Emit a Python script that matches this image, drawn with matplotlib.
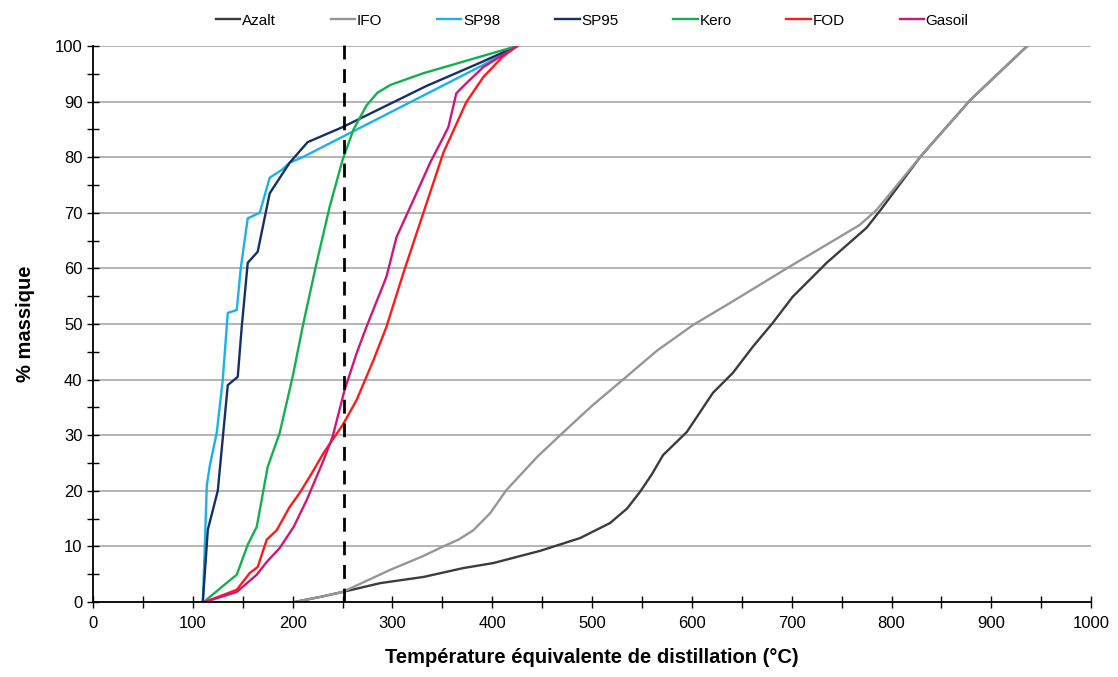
import matplotlib.pyplot as plt
from matplotlib.ticker import MultipleLocator

plt.rcParams['font.family'] = ['Liberation Sans Narrow', 'Liberation Sans', 'DejaVu Sans']

# distillation curves: temperature (°C) and cumulative % mass
azalt_t = [202, 230, 250, 288, 331, 371, 401, 448, 488, 518, 535, 548, 560, 571, 595, 621, 641,
           661, 681, 701, 735, 775, 789, 829, 879, 936]
azalt_y = [0, 1.0, 1.8, 3.4, 4.5, 6.1, 7.0, 9.2, 11.5, 14.2, 16.8, 19.8, 23.0, 26.4, 30.6, 37.6,
           41.2, 45.9, 50.2, 54.9, 61, 67.3, 70.5, 80.1, 90.3, 100]

ifo_t = [202, 230, 250, 298, 330, 351, 366, 381, 398, 414, 445, 468, 500, 531, 565, 601, 643, 695,
         740, 768, 785, 829, 879, 936]
ifo_y = [0, 1.0, 1.8, 5.8, 8.2, 10, 11.2, 12.9, 16, 20.1, 26.1, 30, 35.3, 40, 45.2, 49.8, 54.3, 60,
         64.8, 67.8, 70.5, 80.1, 90.3, 100]

sp98_t = [110, 112, 114, 117, 124, 130, 135, 144, 148, 155, 167, 177, 189, 197, 210, 390, 425]
sp98_y = [0, 10, 21, 24.5, 30.5, 40, 52, 52.5, 60, 69, 70, 76.3, 77.7, 79, 80, 96.5, 100]

sp95_t = [110, 115, 125, 135, 145, 149, 155, 165, 177, 197, 215, 250, 334, 388, 425]
sp95_y = [0, 13, 20, 39, 40.5, 49.5, 61, 63, 73.5, 79, 82.7, 85.4, 92.8, 97, 100]

kero_t = [111, 135, 144, 155, 164, 175, 187, 200, 210, 224, 237, 250, 261, 274, 285, 298, 331, 425]
kero_y = [0, 3.6, 4.9, 10.3, 13.5, 24.3, 30.4, 40.5, 49.5, 61, 71, 79.5, 85, 89.3, 91.6, 93, 95.1,
          100]

fod_t = [112, 144, 157, 165, 174, 184, 197, 207, 218, 231, 250, 264, 281, 294, 311, 331, 351,
         374, 391, 410, 425]
fod_y = [0, 2.2, 5.2, 6.3, 11.2, 12.9, 17.1, 19.6, 22.8, 26.8, 31.8, 36.3, 43.5, 49.5, 59.2, 70,
         80.8, 89.9, 94.4, 98, 100]

gasoil_t = [112, 144, 164, 174, 187, 201, 214, 231, 240, 252, 264, 274, 294, 304, 321, 338, 351,
            356, 364, 374, 391, 425]
gasoil_y = [0, 1.8, 4.9, 7.2, 9.7, 13.5, 18.3, 25.5, 29.7, 38.1, 44.7, 49.5, 58.5, 65.6, 72.3,
            79.1, 83.6, 85.4, 91.5, 93.3, 96.2, 100]

series = [
    ('Azalt', azalt_t, azalt_y, '#3c3c3c'),
    ('IFO', ifo_t, ifo_y, '#969696'),
    ('SP98', sp98_t, sp98_y, '#1ab2ea'),
    ('SP95', sp95_t, sp95_y, '#14306a'),
    ('Kero', kero_t, kero_y, '#13b050'),
    ('FOD', fod_t, fod_y, '#ff1a1a'),
    ('Gasoil', gasoil_t, gasoil_y, '#d0167a'),
]

fig = plt.figure(figsize=(11.18, 6.77), dpi=100)
ax = fig.add_axes([0.0832, 0.1108, 0.8928, 0.8213])

for name, t, y, c in series:
    ax.plot(t, y, color=c, lw=1.7, label=name)

# 250 °C cut
ax.plot([251, 251], [0, 100.8], color='black', lw=2, ls=(0, (5, 3.5)), clip_on=False)

ax.set_xlim(0, 1000)
ax.set_ylim(0, 100)
ax.xaxis.set_major_locator(MultipleLocator(100))
ax.xaxis.set_minor_locator(MultipleLocator(50))
ax.yaxis.set_major_locator(MultipleLocator(10))
ax.yaxis.set_minor_locator(MultipleLocator(5))
ax.tick_params(which='both', direction='inout', length=8, width=1, labelsize=12, color='black')
ax.tick_params(axis='x', pad=6)
ax.grid(axis='y', which='major', color='#a0a0a0', lw=1.1)
ax.set_axisbelow(True)
for s in ('top', 'right'):
    ax.spines[s].set_visible(False)
ax.spines['left'].set_linewidth(1.3)
ax.spines['bottom'].set_linewidth(1.3)

ax.set_xlabel('Température équivalente de distillation (°C)', fontsize=14.5, fontweight='bold', labelpad=12)
ax.set_ylabel('% massique', fontsize=14.5, fontweight='bold', labelpad=14)

ax.legend(loc='lower center', bbox_to_anchor=(0.5, 1.008), ncol=7, frameon=False,
          fontsize=11, handlelength=1.6, handletextpad=0.1, columnspacing=3.6)

fig.savefig('out.png', dpi=100)
